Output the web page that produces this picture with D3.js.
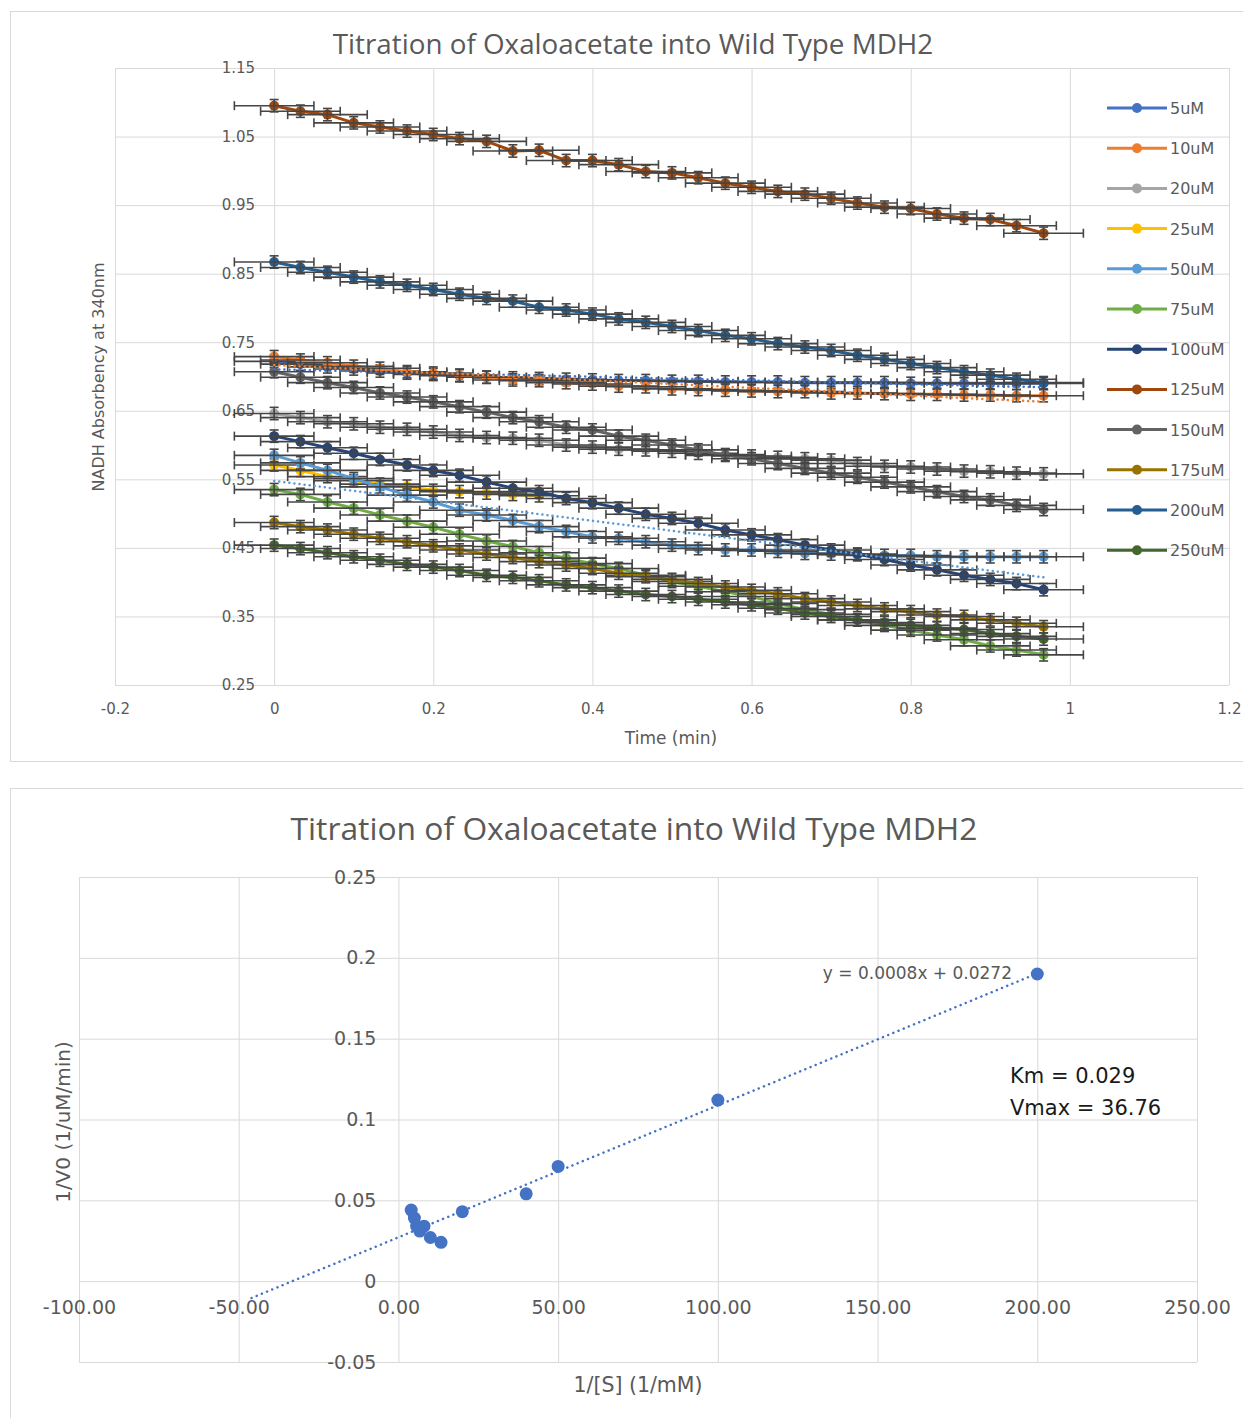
<!DOCTYPE html>
<html>
<head>
<meta charset="utf-8">
<script src="https://cdn.jsdelivr.net/npm/d3@7"></script>
<style>
  body { margin: 0; background: #fff; }
  svg text { font-family: "DejaVu Sans", sans-serif; fill: #595959; }
  svg text.title { font-family: "Open Sans", sans-serif; }
</style>
</head>
<body>
<svg id="chart" width="1243" height="1418"></svg>
<script>
// ---- top chart data: NADH absorbance vs time ----
const time = [0, 0.033, 0.067, 0.1, 0.133, 0.167, 0.2, 0.233, 0.267, 0.3, 0.333, 0.367, 0.4, 0.433, 0.467,
              0.5, 0.533, 0.567, 0.6, 0.633, 0.667, 0.7, 0.733, 0.767, 0.8, 0.833, 0.867, 0.9, 0.933, 0.967];

const abs5uM   = [0.722,0.718,0.714,0.711,0.708,0.705,0.703,0.701,0.699,0.698,0.697,0.696,0.695,0.694,0.694,0.693,0.693,0.692,0.692,0.692,0.691,0.691,0.691,0.691,0.690,0.690,0.690,0.690,0.690,0.690];
const abs10uM  = [0.729,0.724,0.720,0.715,0.712,0.707,0.705,0.702,0.699,0.695,0.694,0.691,0.689,0.686,0.685,0.682,0.681,0.680,0.679,0.678,0.678,0.676,0.676,0.675,0.674,0.674,0.673,0.673,0.672,0.672];
const abs20uM  = [0.646,0.640,0.634,0.631,0.626,0.623,0.619,0.614,0.611,0.610,0.607,0.600,0.597,0.594,0.593,0.591,0.588,0.586,0.584,0.582,0.580,0.578,0.573,0.569,0.568,0.565,0.562,0.561,0.559,0.558];
const abs25uM  = [0.571,0.563,0.554,0.548,0.543,0.540,0.534,0.532,0.530,0.528,0.526];
const abs50uM  = [0.585,0.574,0.563,0.551,0.539,0.527,0.517,0.505,0.498,0.490,0.481,0.474,0.466,0.464,0.459,0.454,0.449,0.447,0.447,0.445,0.442,0.441,0.440,0.439,0.439,0.437,0.437,0.437,0.437,0.437];
const abs75uM  = [0.535,0.528,0.517,0.508,0.498,0.489,0.480,0.470,0.460,0.452,0.443,0.435,0.427,0.420,0.410,0.401,0.394,0.386,0.379,0.369,0.360,0.353,0.345,0.337,0.330,0.323,0.316,0.307,0.301,0.294];
const abs100uM = [0.613,0.605,0.596,0.588,0.579,0.571,0.563,0.556,0.546,0.537,0.532,0.522,0.516,0.508,0.499,0.493,0.486,0.476,0.469,0.462,0.454,0.447,0.441,0.433,0.425,0.418,0.410,0.404,0.398,0.389];
const abs125uM = [1.095,1.087,1.082,1.070,1.064,1.058,1.053,1.047,1.043,1.029,1.030,1.015,1.015,1.009,0.999,0.997,0.990,0.982,0.976,0.970,0.966,0.960,0.953,0.947,0.945,0.937,0.931,0.929,0.920,0.909];
const abs150uM = [0.707,0.699,0.691,0.684,0.676,0.670,0.663,0.656,0.648,0.640,0.634,0.626,0.622,0.613,0.607,0.600,0.593,0.585,0.580,0.573,0.566,0.559,0.553,0.546,0.539,0.532,0.525,0.520,0.512,0.506];
const abs175uM = [0.487,0.481,0.476,0.470,0.464,0.459,0.453,0.447,0.441,0.436,0.430,0.425,0.420,0.413,0.408,0.404,0.398,0.393,0.388,0.383,0.376,0.371,0.366,0.361,0.357,0.352,0.350,0.345,0.340,0.335];
const abs200uM = [0.867,0.859,0.852,0.845,0.838,0.833,0.827,0.820,0.814,0.810,0.801,0.797,0.791,0.784,0.779,0.773,0.767,0.760,0.755,0.748,0.743,0.738,0.731,0.725,0.719,0.713,0.707,0.702,0.696,0.691];
const abs250uM = [0.454,0.449,0.443,0.437,0.432,0.426,0.422,0.417,0.410,0.407,0.402,0.396,0.392,0.387,0.382,0.379,0.375,0.371,0.367,0.362,0.355,0.350,0.345,0.341,0.337,0.333,0.331,0.325,0.321,0.317];

const seriesNames = ["5uM","10uM","20uM","25uM","50uM","75uM","100uM","125uM","150uM","175uM","200uM","250uM"];
const seriesValues = [abs5uM, abs10uM, abs20uM, abs25uM, abs50uM, abs75uM, abs100uM, abs125uM, abs150uM, abs175uM, abs200uM, abs250uM];
const trendSeries = ["5uM", "10uM", "50uM"];   // series with a linear trendline
const timeErr = 0.05;      // horizontal error bar (min)
const absErr = 0.009;      // vertical error bar

const xTicksTop = [-0.2, 0, 0.2, 0.4, 0.6, 0.8, 1, 1.2];
const yTicksTop = [0.25, 0.35, 0.45, 0.55, 0.65, 0.75, 0.85, 0.95, 1.05, 1.15];

// ---- bottom chart data: Lineweaver-Burk ----
const invS  = [200, 100, 50, 40, 20, 13.33, 10, 8, 6.67, 5.71, 5, 4];
const invV0 = [0.190, 0.112, 0.071, 0.054, 0.043, 0.024, 0.027, 0.034, 0.031, 0.034, 0.039, 0.044];
const backForecast = 50;
const trendLabel = "y = 0.0008x + 0.0272";
const kineticText = ["Km = 0.029", "Vmax = 36.76"];

const xTicksBottom = [-100, -50, 0, 50, 100, 150, 200, 250];
const yTicksBottom = [-0.05, 0, 0.05, 0.1, 0.15, 0.2, 0.25];

// Excel office palette
const palette = ["#4472C4","#ED7D31","#A5A5A5","#FFC000","#5B9BD5","#70AD47",
                 "#264478","#9E480E","#636363","#997300","#255E91","#43682B"];
const color = d3.scaleOrdinal().domain(seriesNames).range(palette);

const gridColor = "#d9d9d9";
const errColor = "#454545";

function linFit(xs, ys) {
    const mx = d3.mean(xs), my = d3.mean(ys);
    const b = d3.sum(xs, (v, i) => (v - mx) * (ys[i] - my)) / d3.sum(xs, v => (v - mx) * (v - mx));
    return { a: my - b * mx, b: b };
}

const svg = d3.select("#chart");

// chart frames
svg.append("rect").attr("x", 10.5).attr("y", 11.5).attr("width", 1245).attr("height", 750)
    .attr("fill", "#fff").attr("stroke", gridColor);
svg.append("rect").attr("x", 10.5).attr("y", 788.5).attr("width", 1245).attr("height", 650)
    .attr("fill", "#fff").attr("stroke", gridColor);

// ================= TOP CHART =================
const x1 = d3.scaleLinear().domain([-0.2, 1.2]).range([115, 1229]);
const y1 = d3.scaleLinear().domain([0.25, 1.15]).range([685, 68]);

const topG = svg.append("g");

// gridlines
topG.append("g")
    .attr("transform", `translate(0,${y1(0.25)})`)
    .call(d3.axisBottom(x1).tickValues(xTicksTop).tickSize(-(y1(0.25) - y1(1.15))).tickFormat(""))
    .call(g => g.select(".domain").remove())
    .call(g => g.selectAll("line").attr("stroke", gridColor));
topG.append("g")
    .attr("transform", `translate(${x1(-0.2)},0)`)
    .call(d3.axisLeft(y1).tickValues(yTicksTop).tickSize(-(x1(1.2) - x1(-0.2))).tickFormat(""))
    .call(g => g.select(".domain").remove())
    .call(g => g.selectAll("line").attr("stroke", gridColor));

// tick labels (vertical axis crosses at x = 0)
topG.append("g")
    .attr("transform", `translate(0,${y1(0.25)})`)
    .call(d3.axisBottom(x1).tickValues(xTicksTop).tickSize(0).tickPadding(18).tickFormat(d => String(d)))
    .call(g => g.select(".domain").remove())
    .call(g => g.selectAll("text").style("font-size", "15px").attr("fill", "#595959"));
topG.append("g")
    .attr("transform", `translate(${x1(0)},0)`)
    .call(d3.axisLeft(y1).tickValues(yTicksTop).tickSize(0).tickPadding(19).tickFormat(d => d.toFixed(2)))
    .call(g => g.select(".domain").remove())
    .call(g => g.selectAll("text").style("font-size", "15px").attr("fill", "#595959"));

// titles
topG.append("text")
    .attr("class", "title")
    .attr("x", 633).attr("y", 54)
    .attr("text-anchor", "middle")
    .style("font-size", "27.8px")
    .text("Titration of Oxaloacetate into Wild Type MDH2");
topG.append("text")
    .attr("x", 671).attr("y", 744)
    .attr("text-anchor", "middle")
    .style("font-size", "17px")
    .text("Time (min)");
topG.append("text")
    .attr("transform", "translate(104,377) rotate(-90)")
    .attr("text-anchor", "middle")
    .style("font-size", "16px")
    .text("NADH Absorbency at 340nm");

const line1 = d3.line()
    .x(d => x1(d.t))
    .y(d => y1(d.v));

// series
seriesNames.forEach((name, si) => {
    const pts = seriesValues[si].map((v, i) => ({ t: time[i], v: v }));
    const g = topG.append("g");

    g.append("path")
        .datum(pts)
        .attr("fill", "none")
        .attr("stroke", color(name))
        .attr("stroke-width", 3)
        .attr("stroke-linejoin", "round")
        .attr("d", line1);

    g.selectAll("circle")
        .data(pts)
        .enter()
        .append("circle")
        .attr("cx", d => x1(d.t))
        .attr("cy", d => y1(d.v))
        .attr("r", 5)
        .attr("fill", color(name));

    // error bars
    const eb = g.append("g").attr("stroke", errColor).attr("stroke-width", 1.6);
    pts.forEach(d => {
        const cx = x1(d.t), cy = y1(d.v);
        const xl = x1(d.t - timeErr), xr = x1(d.t + timeErr);
        const yt = y1(d.v + absErr), yb = y1(d.v - absErr);
        eb.append("line").attr("x1", xl).attr("x2", xr).attr("y1", cy).attr("y2", cy);
        eb.append("line").attr("x1", xl).attr("x2", xl).attr("y1", cy - 4.5).attr("y2", cy + 4.5);
        eb.append("line").attr("x1", xr).attr("x2", xr).attr("y1", cy - 4.5).attr("y2", cy + 4.5);
        eb.append("line").attr("x1", cx).attr("x2", cx).attr("y1", yt).attr("y2", yb);
        eb.append("line").attr("x1", cx - 4.5).attr("x2", cx + 4.5).attr("y1", yt).attr("y2", yt);
        eb.append("line").attr("x1", cx - 4.5).attr("x2", cx + 4.5).attr("y1", yb).attr("y2", yb);
    });
});

// linear trendlines (dotted)
trendSeries.forEach(name => {
    const vals = seriesValues[seriesNames.indexOf(name)];
    const ts = time.slice(0, vals.length);
    const fit = linFit(ts, vals);
    const ends = [ts[0], ts[ts.length - 1]].map(t => ({ t: t, v: fit.a + fit.b * t }));
    topG.append("path")
        .datum(ends)
        .attr("fill", "none")
        .attr("stroke", color(name))
        .attr("stroke-width", 2.5)
        .attr("stroke-dasharray", "0.1 5")
        .attr("stroke-linecap", "round")
        .attr("d", line1);
});

// legend
const legend = topG.append("g");
seriesNames.forEach((name, i) => {
    const ly = 108 + i * 40.2;
    legend.append("line")
        .attr("x1", 1107).attr("x2", 1167).attr("y1", ly).attr("y2", ly)
        .attr("stroke", color(name)).attr("stroke-width", 3);
    legend.append("circle")
        .attr("cx", 1137).attr("cy", ly).attr("r", 5)
        .attr("fill", color(name));
    legend.append("text")
        .attr("x", 1170).attr("y", ly + 6)
        .style("font-size", "16px")
        .text(name);
});

// ================= BOTTOM CHART =================
const x2 = d3.scaleLinear().domain([-100, 250]).range([79, 1197]);
const y2 = d3.scaleLinear().domain([-0.05, 0.25]).range([1362, 877]);

const botG = svg.append("g");

botG.append("g")
    .attr("transform", `translate(0,${y2(-0.05)})`)
    .call(d3.axisBottom(x2).tickValues(xTicksBottom).tickSize(-(y2(-0.05) - y2(0.25))).tickFormat(""))
    .call(g => g.select(".domain").remove())
    .call(g => g.selectAll("line").attr("stroke", gridColor));
botG.append("g")
    .attr("transform", `translate(${x2(-100)},0)`)
    .call(d3.axisLeft(y2).tickValues(yTicksBottom).tickSize(-(x2(250) - x2(-100))).tickFormat(""))
    .call(g => g.select(".domain").remove())
    .call(g => g.selectAll("line").attr("stroke", gridColor));

// tick labels (axes cross at 0,0)
botG.append("g")
    .attr("transform", `translate(0,${y2(0)})`)
    .call(d3.axisBottom(x2).tickValues(xTicksBottom).tickSize(0).tickPadding(19).tickFormat(d => d.toFixed(2)))
    .call(g => g.select(".domain").remove())
    .call(g => g.selectAll("text").style("font-size", "19px").attr("fill", "#595959"));
botG.append("g")
    .attr("transform", `translate(${x2(0)},0)`)
    .call(d3.axisLeft(y2).tickValues(yTicksBottom).tickSize(0).tickPadding(22).tickFormat(d => String(d)))
    .call(g => g.select(".domain").remove())
    .call(g => g.selectAll("text").style("font-size", "19px").attr("fill", "#595959"));

botG.append("text")
    .attr("class", "title")
    .attr("x", 634).attr("y", 840)
    .attr("text-anchor", "middle")
    .style("font-size", "31.8px")
    .text("Titration of Oxaloacetate into Wild Type MDH2");
botG.append("text")
    .attr("x", 638).attr("y", 1392)
    .attr("text-anchor", "middle")
    .style("font-size", "20.5px")
    .text("1/[S] (1/mM)");
botG.append("text")
    .attr("transform", "translate(70,1122) rotate(-90)")
    .attr("text-anchor", "middle")
    .style("font-size", "20px")
    .text("1/V0 (1/uM/min)");

// trendline with backward forecast
const fit2 = linFit(invS, invV0);
const trendPts = [d3.min(invS) - backForecast, d3.max(invS)].map(s => ({ s: s, v: fit2.a + fit2.b * s }));
botG.append("path")
    .datum(trendPts)
    .attr("fill", "none")
    .attr("stroke", "#4472C4")
    .attr("stroke-width", 2.5)
    .attr("stroke-dasharray", "0.1 5.5")
    .attr("stroke-linecap", "round")
    .attr("d", d3.line().x(d => x2(d.s)).y(d => y2(d.v)));

botG.selectAll("circle.pt")
    .data(invS.map((s, i) => ({ s: s, v: invV0[i] })))
    .enter()
    .append("circle")
    .attr("class", "pt")
    .attr("cx", d => x2(d.s))
    .attr("cy", d => y2(d.v))
    .attr("r", 6.5)
    .attr("fill", "#4472C4");

botG.append("text")
    .attr("x", 1012).attr("y", 979)
    .attr("text-anchor", "end")
    .style("font-size", "17px")
    .text(trendLabel);

kineticText.forEach((t, i) => {
    botG.append("text")
        .attr("x", 1010).attr("y", 1083 + i * 32)
        .style("font-size", "21px")
        .style("fill", "#1a1a1a")
        .text(t);
});
</script>
</body>
</html>
